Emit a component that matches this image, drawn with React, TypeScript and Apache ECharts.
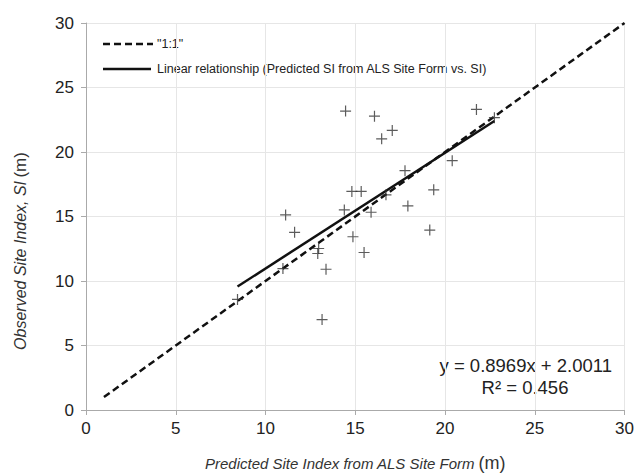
import React, { useEffect, useRef } from "react";
import * as echarts from "echarts";

const predictedSI: number[] = [
  8.44, 10.97, 11.12, 11.62, 12.96, 12.91, 13.37, 13.15, 14.46, 14.39, 14.81, 15.33, 14.87,
  15.49, 15.88, 16.07, 16.47, 16.71, 17.06, 17.77, 17.93, 19.15, 19.37, 20.4, 21.75, 22.75,
];
const observedSI: number[] = [
  8.57, 10.96, 15.12, 13.77, 12.52, 12.13, 10.91, 7.01, 23.17, 15.51, 16.94, 16.94, 13.43,
  12.21, 15.33, 22.78, 21.02, 16.68, 21.67, 18.55, 15.82, 13.95, 17.07, 19.33, 23.3, 22.66,
];
const oneToOne: number[][] = [
  [1, 1],
  [30, 30],
];
const slope = 0.8969;
const intercept = 2.0011;
const fitRange: number[] = [8.44, 22.75];
const axisTicks: number[] = [0, 5, 10, 15, 20, 25, 30];
const legendLabels: string[] = ['"1:1"', "Linear relationship (Predicted SI from ALS Site Form vs. SI)"];

export default function App() {
  const ref = useRef<HTMLDivElement>(null);
  useEffect(() => {
    if (!ref.current) return;
    const chart = echarts.init(ref.current, null, { renderer: "svg" });
    const scatter = predictedSI.map((x, i) => [x, observedSI[i]]);
    const fit = fitRange.map((x) => [x, slope * x + intercept]);
    const font = "'Liberation Sans', Arial, sans-serif";
    chart.setOption({
      animation: false,
      textStyle: { fontFamily: font },
      grid: { left: 86, right: 9, top: 23, bottom: 64, containLabel: false },
      xAxis: {
        type: "value",
        min: axisTicks[0],
        max: axisTicks[axisTicks.length - 1],
        interval: 5,
        axisLine: { show: true, onZero: false, lineStyle: { color: "#aaa", width: 1 } },
        axisTick: { show: true, length: 5, lineStyle: { color: "#aaa" } },
        axisLabel: { fontSize: 17, color: "#222", margin: 10, fontFamily: font },
        splitLine: { show: true, lineStyle: { color: "#e6e6e6", width: 1 } },
      },
      yAxis: {
        type: "value",
        min: axisTicks[0],
        max: axisTicks[axisTicks.length - 1],
        interval: 5,
        axisLine: { show: true, onZero: false, lineStyle: { color: "#aaa", width: 1 } },
        axisTick: { show: true, length: 5, lineStyle: { color: "#aaa" } },
        axisLabel: { fontSize: 17, color: "#222", margin: 12, fontFamily: font },
        splitLine: { show: true, lineStyle: { color: "#e6e6e6", width: 1 } },
      },
      series: [
        {
          name: legendLabels[0],
          type: "line",
          data: oneToOne,
          symbol: "none",
          lineStyle: { color: "#111", width: 2.5, type: [7, 4] },
          itemStyle: { color: "#111" },
          z: 3,
        },
        {
          name: legendLabels[1],
          type: "line",
          data: fit,
          symbol: "none",
          lineStyle: { color: "#111", width: 2.5, type: "solid" },
          itemStyle: { color: "#111" },
          z: 3,
        },
        {
          name: "Observed",
          type: "scatter",
          data: scatter,
          symbol: "path://M5,0 L5,10 M0,5 L10,5",
          symbolSize: 11,
          itemStyle: { color: "none", borderColor: "#333", borderWidth: 1.2 },
          z: 4,
        },
      ],
      graphic: [
        {
          type: "line",
          shape: { x1: 103, y1: 44, x2: 153, y2: 44 },
          style: { stroke: "#111", lineWidth: 2.5, lineDash: [7, 4] },
        },
        {
          type: "text",
          x: 157,
          y: 44,
          style: {
            text: legendLabels[0],
            fontSize: 12.5,
            fill: "#222",
            fontFamily: font,
            verticalAlign: "middle",
          },
        },
        {
          type: "line",
          shape: { x1: 103, y1: 69, x2: 151, y2: 69 },
          style: { stroke: "#111", lineWidth: 2.5 },
        },
        {
          type: "text",
          x: 157,
          y: 69,
          style: {
            text: legendLabels[1],
            fontSize: 12.5,
            fill: "#222",
            fontFamily: font,
            verticalAlign: "middle",
          },
        },
        {
          type: "text",
          x: 612,
          y: 365,
          style: {
            text: "y = 0.8969x + 2.0011",
            fontSize: 18.5,
            fill: "#222",
            fontFamily: font,
            align: "right",
            verticalAlign: "middle",
          },
        },
        {
          type: "text",
          x: 525,
          y: 387,
          style: {
            text: "R² = 0.456",
            fontSize: 18.5,
            fill: "#222",
            fontFamily: font,
            align: "center",
            verticalAlign: "middle",
          },
        },
        {
          type: "text",
          x: 205,
          y: 463,
          style: {
            text: "{i|Predicted Site Index from ALS Site Form} {n|(m)}",
            verticalAlign: "middle",
            rich: {
              i: { fontStyle: "italic", fontSize: 15, fill: "#333", fontFamily: font },
              n: { fontSize: 18, fill: "#333", fontFamily: font },
            },
          },
        },
        {
          type: "text",
          x: 20,
          y: 251,
          rotation: Math.PI / 2,
          style: {
            text: "{i|Observed Site Index, }{s|SI} {n|(m)}",
            align: "center",
            verticalAlign: "middle",
            rich: {
              i: { fontStyle: "italic", fontSize: 16, fill: "#333", fontFamily: font },
              s: { fontStyle: "italic", fontSize: 16, fill: "#333", fontFamily: font },
              n: { fontSize: 17, fill: "#333", fontFamily: font },
            },
          },
        },
      ],
    });
    return () => chart.dispose();
  }, []);
  return (
    <div
      ref={ref}
      style={{ position: "absolute", left: 0, top: 0, width: 637, height: 474 }}
    />
  );
}
